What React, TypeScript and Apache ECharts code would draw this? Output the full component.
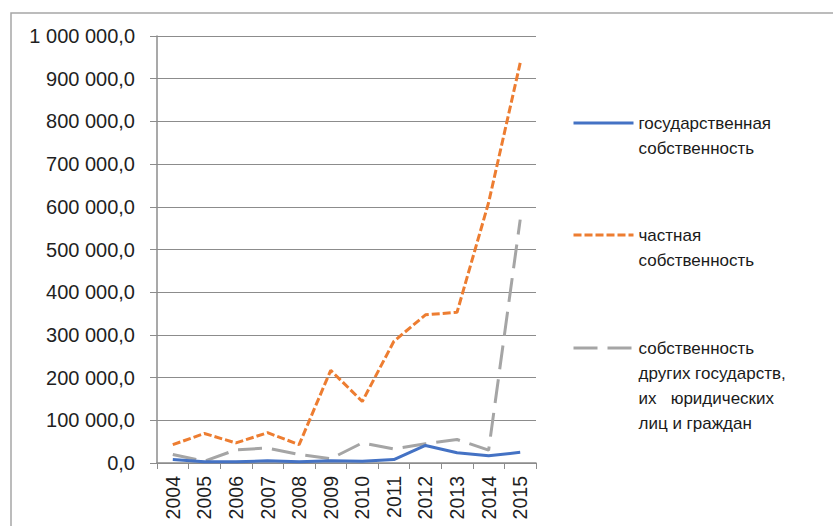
import React, { useEffect, useRef } from "react";
import * as echarts from "echarts";

const years = ["2004", "2005", "2006", "2007", "2008", "2009", "2010", "2011", "2012", "2013", "2014", "2015"];
const stateOwned = [8000, 3000, 3000, 5000, 3000, 5000, 4000, 8000, 41000, 24000, 17000, 25000];
const privateOwned = [43000, 69000, 47000, 71000, 43000, 217000, 144000, 285000, 347000, 353000, 610000, 937000];
const foreignOwned = [20000, 4000, 31000, 35000, 20000, 10000, 47000, 33000, 45000, 55000, 30000, 570000];

const seriesNames = [
  "государственная собственность",
  "частная собственность",
  "собственность других государств, их юридических лиц и граждан",
];
const legendLabels = [
  "\nгосударственная\nсобственность",
  "\nчастная\nсобственность",
  "\n\n\nсобственность\nдругих государств,\nих   юридических\nлиц и граждан",
];

const FONT = "'Liberation Sans', Arial, sans-serif";

function fmt(v: number): string {
  const s = Math.round(v).toString().replace(/\B(?=(\d{3})+(?!\d))/g, " ");
  return s + ",0";
}

export default function App() {
  const ref = useRef<HTMLDivElement>(null);
  useEffect(() => {
    if (!ref.current) return;
    const chart = echarts.init(ref.current, undefined, { renderer: "svg" });
    const legendTops = [85.5, 197.5, 260.5];
    chart.setOption({
      animation: false,
      backgroundColor: "#ffffff",
      textStyle: { fontFamily: FONT },
      graphic: [
        {
          type: "rect",
          shape: { x: 11, y: 13, width: 900, height: 600 },
          style: { fill: "none", stroke: "#a6a6a6", lineWidth: 1.5 },
          z: -10,
        },
      ],
      legend: seriesNames.map((name, i) => ({
        data: [name],
        left: 572,
        top: legendTops[i],
        padding: 0,
        orient: "vertical",
        itemWidth: 60,
        itemHeight: 14,
        selectedMode: false,
        itemStyle: { opacity: 0 },
        lineStyle: { width: 3 },
        formatter: () => legendLabels[i],
        textStyle: { fontSize: 17, lineHeight: 25, color: "#1a1a1a", fontFamily: FONT },
      })),
      grid: { left: 157, right: 297, top: 36, bottom: 63, containLabel: false },
      xAxis: {
        type: "category",
        data: years,
        boundaryGap: true,
        axisLine: { show: true, lineStyle: { color: "#8c8c8c", width: 1.5 } },
        axisTick: { show: true, length: 6, inside: false, lineStyle: { color: "#8c8c8c" } },
        axisLabel: { rotate: 90, fontSize: 19.5, color: "#1f1f1f", margin: 13, fontFamily: FONT },
        splitLine: { show: false },
      },
      yAxis: {
        type: "value",
        min: 0,
        max: 1000000,
        interval: 100000,
        axisLine: { show: true, lineStyle: { color: "#8c8c8c", width: 1.5 } },
        axisTick: { show: true, length: 7, lineStyle: { color: "#8c8c8c" } },
        axisLabel: { fontSize: 20, color: "#1f1f1f", margin: 22, formatter: (v: number) => fmt(v), fontFamily: FONT },
        splitLine: { show: true, lineStyle: { color: "#8c8c8c", width: 1.2 } },
      },
      series: [
        {
          name: seriesNames[0],
          type: "line",
          data: stateOwned,
          symbol: "none",
          z: 3,
          lineStyle: { color: "#4472C4", width: 3, type: "solid" },
          itemStyle: { color: "#4472C4" },
        },
        {
          name: seriesNames[1],
          type: "line",
          data: privateOwned,
          symbol: "none",
          z: 2,
          lineStyle: { color: "#ED7D31", width: 3, type: [8, 3] },
          itemStyle: { color: "#ED7D31" },
        },
        {
          name: seriesNames[2],
          type: "line",
          data: foreignOwned,
          symbol: "none",
          z: 1,
          lineStyle: { color: "#A5A5A5", width: 3, type: [24, 10] },
          itemStyle: { color: "#A5A5A5" },
        },
      ],
    });
    return () => chart.dispose();
  }, []);
  return (
    <div
      ref={ref}
      style={{ position: "fixed", left: 0, top: 0, width: 833, height: 526, background: "#fff" }}
    />
  );
}
